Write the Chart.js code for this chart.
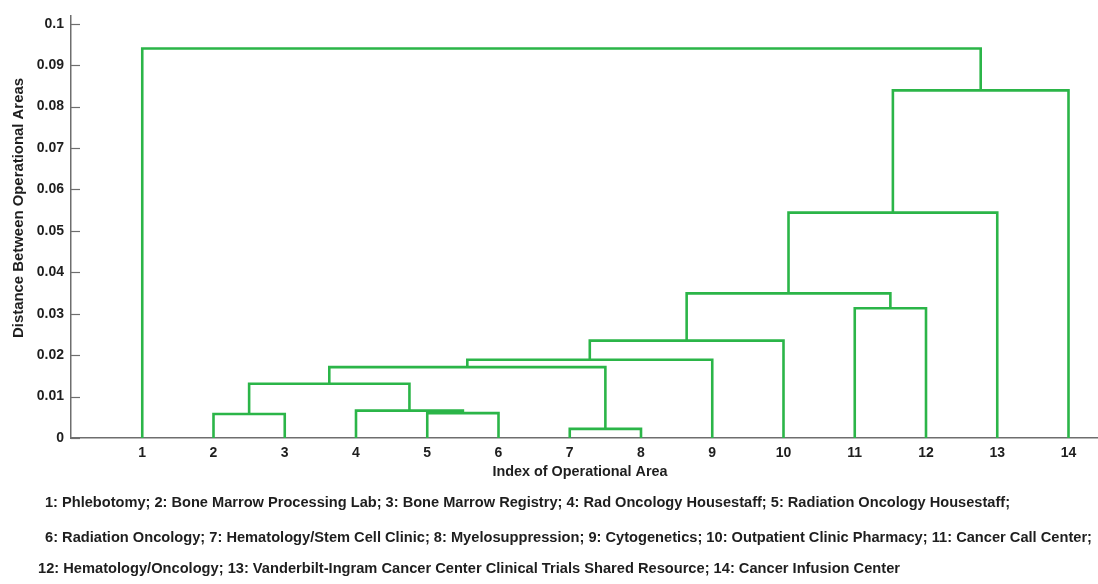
<!DOCTYPE html>
<html>
<head>
<meta charset="utf-8">
<script src="https://cdn.jsdelivr.net/npm/chart.js@4.4.1/dist/chart.umd.min.js"></script>
<style>
  html, body { margin: 0; padding: 0; background: #fff; }
  #wrap { width: 1098px; height: 584px; }
</style>
</head>
<body>
<div id="wrap"><canvas id="dendro" width="1098" height="584"></canvas></div>
<script>
// leaves in the order they appear along the x axis
const leafOrder = [1, 2, 3, 4, 5, 6, 7, 8, 9, 10, 11, 12, 13, 14];
const leafLabels = ['1', '2', '3', '4', '5', '6', '7', '8', '9', '10', '11', '12', '13', '14'];

// linkage: merge i joins mergeLeft[i] and mergeRight[i] at mergeHeight[i]
// leaves are 1..14, the cluster built by merge i gets id 15 + i
const mergeLeft   = [7,      2,      5,      4,      16,     19,     20,     21,     11,     22,     24,     25,     1];
const mergeRight  = [8,      3,      6,      17,     18,     15,     9,      10,     12,     23,     13,     14,     26];
const mergeHeight = [0.0022, 0.0058, 0.0060, 0.0066, 0.0131, 0.0171, 0.0189, 0.0235, 0.0313, 0.0349, 0.0544, 0.0839, 0.0940];

const yTicks = [0, 0.01, 0.02, 0.03, 0.04, 0.05, 0.06, 0.07, 0.08, 0.09, 0.1];
const yTickLabels = ['0', '0.01', '0.02', '0.03', '0.04', '0.05', '0.06', '0.07', '0.08', '0.09', '0.1'];

const footnotes = [
    '1: Phlebotomy; 2: Bone Marrow Processing Lab; 3: Bone Marrow Registry; 4: Rad Oncology Housestaff; 5: Radiation Oncology Housestaff;',
    '6: Radiation Oncology; 7: Hematology/Stem Cell Clinic; 8: Myelosuppression; 9: Cytogenetics; 10: Outpatient Clinic Pharmacy; 11: Cancer Call Center;',
    '12: Hematology/Oncology; 13: Vanderbilt-Ingram Cancer Center Clinical Trials Shared Resource; 14: Cancer Infusion Center'
];

const GREEN = '#2bb548';
const AXIS = '#6e6e6e';
const TEXT = '#1e1e1e';
const FONT = "'Liberation Sans', Arial, sans-serif";

// node positions: leaves sit at their order index, clusters at the middle of their children
const nodeX = {};
const nodeY = {};
leafOrder.forEach((leaf, i) => { nodeX[leaf] = i + 1; nodeY[leaf] = 0; });

const datasets = [];
mergeHeight.forEach((h, i) => {
    const a = mergeLeft[i], b = mergeRight[i];
    const id = 15 + i;
    nodeX[id] = (nodeX[a] + nodeX[b]) / 2;
    nodeY[id] = h;
    datasets.push({
        data: [
            { x: nodeX[a], y: nodeY[a] },
            { x: nodeX[a], y: h },
            { x: nodeX[b], y: h },
            { x: nodeX[b], y: nodeY[b] }
        ],
        showLine: true,
        borderColor: GREEN,
        borderWidth: 2.6,
        pointRadius: 0,
        pointHoverRadius: 0,
        fill: false,
        tension: 0,
        borderJoinStyle: 'miter'
    });
});

// draw text squeezed/stretched horizontally to a given width
function fitText(ctx, text, x, y, width, align) {
    const w = ctx.measureText(text).width;
    const s = width / w;
    ctx.save();
    ctx.translate(x, y);
    ctx.scale(s, 1);
    ctx.textAlign = align;
    ctx.fillText(text, 0, 0);
    ctx.restore();
}

const extras = {
    id: 'extras',
    afterDraw(chart) {
        const ctx = chart.ctx;
        const area = chart.chartArea;
        const yScale = chart.scales.y;

        // ticks pointing into the plot, like the original
        ctx.save();
        ctx.strokeStyle = AXIS;
        ctx.lineWidth = 1.2;
        yTicks.forEach(v => {
            const py = Math.round(yScale.getPixelForValue(v)) + 0.5;
            ctx.beginPath();
            ctx.moveTo(area.left, py);
            ctx.lineTo(area.left + 9, py);
            ctx.stroke();
        });
        ctx.restore();

        ctx.save();
        ctx.fillStyle = TEXT;
        ctx.textBaseline = 'middle';

        // axis titles
        ctx.font = 'bold 14px ' + FONT;
        fitText(ctx, 'Index of Operational Area', 580, 472, 175, 'center');

        ctx.save();
        ctx.translate(19, 208);
        ctx.rotate(-Math.PI / 2);
        ctx.font = 'bold 15px ' + FONT;
        fitText(ctx, 'Distance Between Operational Areas', 0, 0, 260, 'center');
        ctx.restore();

        // legend of operational areas
        ctx.font = 'bold 14px ' + FONT;
        fitText(ctx, footnotes[0], 45, 503, 965, 'left');
        fitText(ctx, footnotes[1], 45, 538, 1047, 'left');
        fitText(ctx, footnotes[2], 38, 569, 862, 'left');
        ctx.restore();
    }
};

new Chart(document.getElementById('dendro'), {
    type: 'scatter',
    data: { datasets: datasets },
    plugins: [extras],
    options: {
        responsive: false,
        animation: false,
        devicePixelRatio: 1,
        layout: { padding: { top: 13, right: 1, left: 0, bottom: 0 } },
        plugins: {
            legend: { display: false },
            tooltip: { enabled: false }
        },
        scales: {
            x: {
                type: 'linear',
                min: 0,
                max: 14.4,
                grid: { display: false, drawTicks: false },
                border: { display: true, color: AXIS, width: 1.5 },
                afterBuildTicks: (scale) => {
                    scale.ticks = leafOrder.map((leaf, i) => ({ value: i + 1 }));
                },
                afterFit: (scale) => { scale.height = 146; },
                ticks: {
                    autoSkip: false,
                    maxRotation: 0,
                    padding: 7,
                    color: TEXT,
                    font: { family: FONT, size: 14, weight: 'bold' },
                    callback: (value, index) => leafLabels[index]
                }
            },
            y: {
                type: 'linear',
                min: 0,
                max: 0.102,
                grid: { display: false, drawTicks: false },
                border: { display: true, color: AXIS, width: 1.5 },
                afterBuildTicks: (scale) => {
                    scale.ticks = yTicks.map(v => ({ value: v }));
                },
                afterFit: (scale) => { scale.width = 71; },
                ticks: {
                    autoSkip: false,
                    padding: 7,
                    color: TEXT,
                    font: { family: FONT, size: 14, weight: 'bold' },
                    callback: (value, index) => yTickLabels[index]
                }
            }
        }
    }
});
</script>
</body>
</html>
